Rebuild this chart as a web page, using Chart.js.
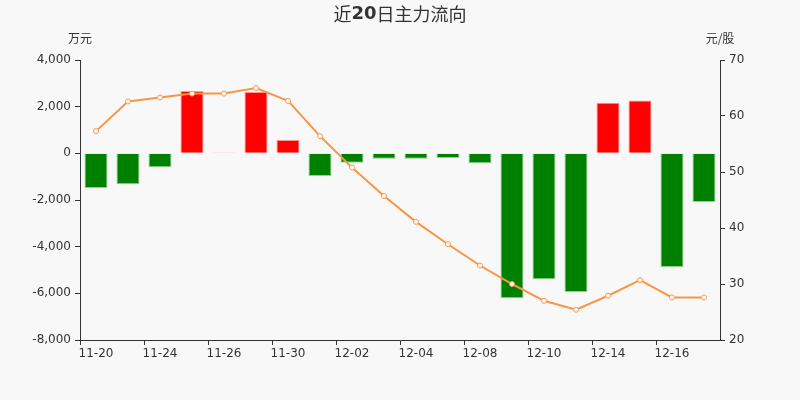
<!DOCTYPE html>
<html lang="zh">
  <head>
    <meta charset="UTF-8" />
    <title>近20日主力流向</title>
    <script src="https://cdn.jsdelivr.net/npm/chart.js@4.4.0/dist/chart.umd.min.js"></script>
    <style>
      html, body { margin: 0; padding: 0; background: #f8f8f8; }
      #box { width: 800px; height: 400px; }
    </style>
  </head>
  <body>
    <div id="box"><canvas id="myChart"></canvas></div>
    <script>
      // 날짜, 주력자금(만원), 주가(원/주)
      var v_dates = ["11-20", "11-23", "11-24", "11-25", "11-26", "11-27", "11-30", "12-01", "12-02", "12-03",
                     "12-04", "12-07", "12-08", "12-09", "12-10", "12-11", "12-14", "12-15", "12-16", "12-17"];
      var v_flow = [-1490, -1320, -600, 2670, 40, 2630, 570, -970, -400, -230,
                    -230, -200, -430, -6210, -5400, -5940, 2170, 2260, -4870, -2090];
      var v_price = [57.3, 62.6, 63.3, 64.0, 64.0, 65.0, 62.7, 56.4, 50.8, 45.7,
                     41.1, 37.1, 33.3, 30.0, 27.0, 25.4, 27.9, 30.7, 27.6, 27.6];
      var v_leftTicks = [-8000, -6000, -4000, -2000, 0, 2000, 4000];
      var v_rightTicks = [20, 30, 40, 50, 60, 70];

      var v_font = "'DejaVu Sans', sans-serif";
      var v_txt = "#333";

      // 제목: 한자는 보통, 숫자만 굵게
      var v_titleParts = [
        { t: "近", f: "18px 'Noto Sans CJK SC', sans-serif" },
        { t: "20", f: "bold 18px 'DejaVu Sans', sans-serif" },
        { t: "日主力流向", f: "18px 'Noto Sans CJK SC', sans-serif" },
      ];

      var textPlugin = {
        id: "texts",
        afterDraw: function (chart) {
          var c = chart.ctx;
          c.save();
          c.fillStyle = v_txt;
          c.textBaseline = "middle";
          var total = 0;
          v_titleParts.forEach(function (p) { c.font = p.f; total += c.measureText(p.t).width; });
          var x = 400 - total / 2;
          c.textAlign = "left";
          v_titleParts.forEach(function (p) {
            c.font = p.f;
            c.fillText(p.t, x, 14);
            x += c.measureText(p.t).width;
          });
          c.textAlign = "center";
          c.font = "12px 'Noto Sans CJK SC', sans-serif";
          c.fillText("万元", chart.scales.y.right, 38);
          c.fillText("元/股", chart.scales.y1.left, 38);
          c.restore();
        },
      };

      const ctx = document.getElementById("myChart").getContext("2d");
      const myChart = new Chart(ctx, {
        data: {
          labels: v_dates,
          datasets: [
            {
              type: "line",
              data: v_price,
              yAxisID: "y1",
              borderColor: "#f79646",
              borderWidth: 2,
              backgroundColor: "#ffffff",
              pointBackgroundColor: "#ffffff",
              pointBorderColor: "#f79646",
              pointBorderWidth: 1,
              pointRadius: 2.5,
              tension: 0,
              order: 0,
            },
            {
              type: "bar",
              data: v_flow,
              yAxisID: "y",
              backgroundColor: v_flow.map(function (v) { return v >= 0 ? "#ff0000" : "#008000"; }),
              borderColor: v_flow.map(function (v) { return v >= 0 ? "rgba(255,120,120,0.8)" : "rgba(120,200,120,0.8)"; }),
              borderWidth: 1,
              categoryPercentage: 1,
              barPercentage: 0.72,
              order: 1,
            },
          ],
        },
        options: {
          responsive: true,
          maintainAspectRatio: false,
          animation: false,
          layout: { padding: { top: 60, left: 0, right: 0, bottom: 0 } },
          plugins: {
            legend: { display: false },
            title: { display: false },
            tooltip: { enabled: false },
          },
          scales: {
            x: {
              offset: true,
              grid: {
                offset: true,
                drawOnChartArea: false,
                tickLength: 5,
                color: function (c) { return c.index % 2 === 0 ? "#333" : "transparent"; },
              },
              border: { color: "#333" },
              ticks: {
                autoSkip: false,
                maxRotation: 0,
                color: v_txt,
                font: { family: v_font, size: 12 },
                padding: 2,
                callback: function (val, i) { return i % 2 === 0 ? v_dates[i] : ""; },
              },
              afterFit: function (s) { s.height = 60; },
            },
            y: {
              position: "left",
              min: -8000,
              max: 4000,
              afterBuildTicks: function (s) { s.ticks = v_leftTicks.map(function (v) { return { value: v }; }); },
              grid: { drawOnChartArea: false, tickLength: 5, color: "#333" },
              border: { color: "#333" },
              ticks: {
                color: v_txt,
                font: { family: v_font, size: 12 },
                padding: 4,
                callback: function (v) { return v.toLocaleString("en-US"); },
              },
              afterFit: function (s) { s.width = 80; },
            },
            y1: {
              position: "right",
              min: 20,
              max: 70,
              afterBuildTicks: function (s) { s.ticks = v_rightTicks.map(function (v) { return { value: v }; }); },
              grid: { drawOnChartArea: false, tickLength: 5, color: "#333" },
              border: { color: "#333" },
              ticks: {
                color: v_txt,
                font: { family: v_font, size: 12 },
                padding: 4,
              },
              afterFit: function (s) { s.width = 80; },
            },
          },
        },
        plugins: [textPlugin],
      });
    </script>
  </body>
</html>
